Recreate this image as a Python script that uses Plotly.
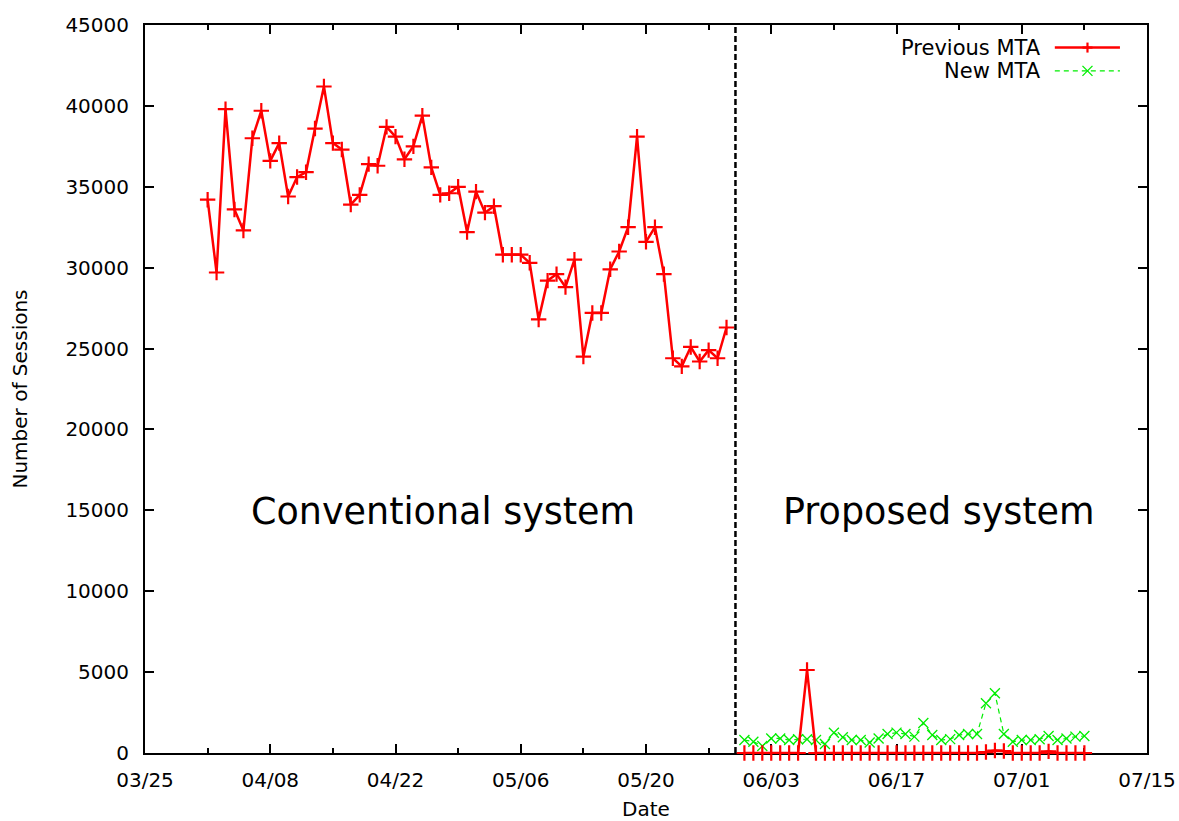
import pandas as pd
import plotly.graph_objects as go

# ---------------- data ----------------
conv_start = "2013-04-01"          # first day of conventional period
prev_conv = [34200, 29700, 39800, 33600, 32300, 38000, 39700, 36600, 37700, 34400,
             35600, 35900, 38600, 41200, 37700, 37300, 33900, 34500, 36400, 36300,
             38700, 38100, 36700, 37500, 39400, 36200, 34500, 34600, 35000, 32200,
             34700, 33400, 33800, 30800, 30800, 30800, 30300, 26800, 29200, 29600,
             28800, 30500, 24500, 27200, 27200, 29900, 31000, 32500, 38100, 31600,
             32500, 29600, 24400, 23900, 25100, 24200, 24900, 24400, 26300]

switch_date = "2013-05-30"         # system switch (dashed line)

prop_start = "2013-05-31"          # first day of proposed period
prev_prop = [0, 0, 0, 0, 0, 0, 0, 5130, 0, 0,
             0, 0, 0, 0, 0, 0, 0, 0, 0, 0,
             0, 0, 0, 0, 0, 0, 0, 60, 150, 120,
             0, 0, 0, 0, 100, 0, 0, 0, 0]
new_mta = [800, 700, 430, 900, 900, 800, 850, 850, 800, 560,
           1250, 970, 800, 800, 650, 900, 1170, 1260, 1170, 1010,
           1850, 1110, 800, 860, 1110, 1170, 1170, 3070, 3690, 1170,
           700, 800, 800, 850, 1050, 800, 900, 1010, 1050]

x_range = ["2013-03-25", "2013-07-15"]
y_ticks = [0, 5000, 10000, 15000, 20000, 25000, 30000, 35000, 40000, 45000]
labels = {"conv": "Conventional system", "prop": "Proposed system"}
label_pos = {"conv": ("2013-04-27 08:00", 14900), "prop": ("2013-06-21 17:00", 14900)}

# ---------------- build ----------------
conv_dates = pd.date_range(conv_start, periods=len(prev_conv), freq="D")
prop_dates = pd.date_range(prop_start, periods=len(prev_prop), freq="D")
new_dates = pd.date_range(prop_start, periods=len(new_mta), freq="D")

prev_x = list(conv_dates) + [pd.Timestamp(switch_date)] + list(prop_dates)
prev_y = prev_conv + [None] + prev_prop

RED = "#ff0000"
GREEN = "#00ee00"
FONT = "DejaVu Sans"

fig = go.Figure()
fig.add_trace(go.Scatter(
    x=new_dates, y=new_mta, mode="lines+markers", name="New MTA",
    line=dict(color=GREEN, width=1.2, dash="5px,4px"),
    marker=dict(symbol="x-thin", size=10, line=dict(color=GREEN, width=1.3)),
    cliponaxis=False, showlegend=False))
fig.add_trace(go.Scatter(
    x=prev_x, y=prev_y, mode="lines+markers", name="Previous MTA",
    connectgaps=False,
    line=dict(color=RED, width=2.5),
    marker=dict(symbol="cross-thin", size=11, line=dict(color=RED, width=2.2)),
    cliponaxis=False, showlegend=False))

# dashed separator
fig.add_shape(type="line", xref="x", yref="paper", x0=switch_date, x1=switch_date,
              y0=0, y1=1, line=dict(color="black", width=2.5, dash="6px,3px"))

# region labels
for k in ("conv", "prop"):
    fig.add_annotation(x=label_pos[k][0], y=label_pos[k][1], text=labels[k],
                       showarrow=False, font=dict(family=FONT, size=36.5, color="black"),
                       xanchor="center", yanchor="middle")

# custom key (gnuplot style: text then sample)
key_items = [("Previous MTA", RED, "solid", 2.5, "plus", 0.969),
             ("New MTA", GREEN, "5px,4px", 1.2, "x", 0.937)]
kx0, kx1, kxm = 0.908, 0.973, 0.9406
for text, col, dash, w, mk, ky in key_items:
    fig.add_annotation(xref="paper", yref="paper", x=0.896, y=ky, text=text,
                       showarrow=False, xanchor="right", yanchor="middle",
                       font=dict(family=FONT, size=21, color="black"))
    fig.add_shape(type="line", xref="paper", yref="paper", x0=kx0, x1=kx1, y0=ky, y1=ky,
                  line=dict(color=col, width=w, dash=dash))
    if mk == "plus":
        segs = [(-5, 0, 5, 0), (0, -5, 0, 5)]
        lw = 2.2
    else:
        segs = [(-5, -5, 5, 5), (-5, 5, 5, -5)]
        lw = 1.3
    for a0, b0, a1, b1 in segs:
        fig.add_shape(type="line", xref="paper", yref="paper",
                      xsizemode="pixel", ysizemode="pixel", xanchor=kxm, yanchor=ky,
                      x0=a0, x1=a1, y0=b0, y1=b1, line=dict(color=col, width=lw))

fig.update_layout(
    width=1179, height=821,
    margin=dict(l=145, r=32, t=25, b=68),
    paper_bgcolor="white", plot_bgcolor="white",
    font=dict(family=FONT, size=20, color="black"),
    showlegend=False,
)
fig.update_xaxes(
    type="date", range=x_range, tick0="2013-03-25", dtick=14 * 86400000,
    tickformat="%m/%d", ticks="inside", ticklen=9, tickwidth=1.5, tickcolor="black",
    minor=dict(ticks="inside", ticklen=5, tickwidth=1.5, tickcolor="black",
               dtick=7 * 86400000, tick0="2013-03-25"),
    showline=True, linecolor="black", linewidth=2, mirror="ticks",
    showgrid=False, zeroline=False, layer="below traces",
    ticklabelstandoff=8,
    title=dict(text="Date", font=dict(family=FONT, size=20), standoff=12),
    automargin=False,
)
fig.update_yaxes(
    range=[0, 45000], tickvals=y_ticks, tickformat="d",
    ticks="inside", ticklen=9, tickwidth=1.5, tickcolor="black",
    showline=True, linecolor="black", linewidth=2, mirror="ticks",
    showgrid=False, zeroline=False, layer="below traces",
    ticklabelstandoff=10,
    title=dict(text="Number of Sessions", font=dict(family=FONT, size=20), standoff=32),
    automargin=False,
)

fig.write_html("out.html")
